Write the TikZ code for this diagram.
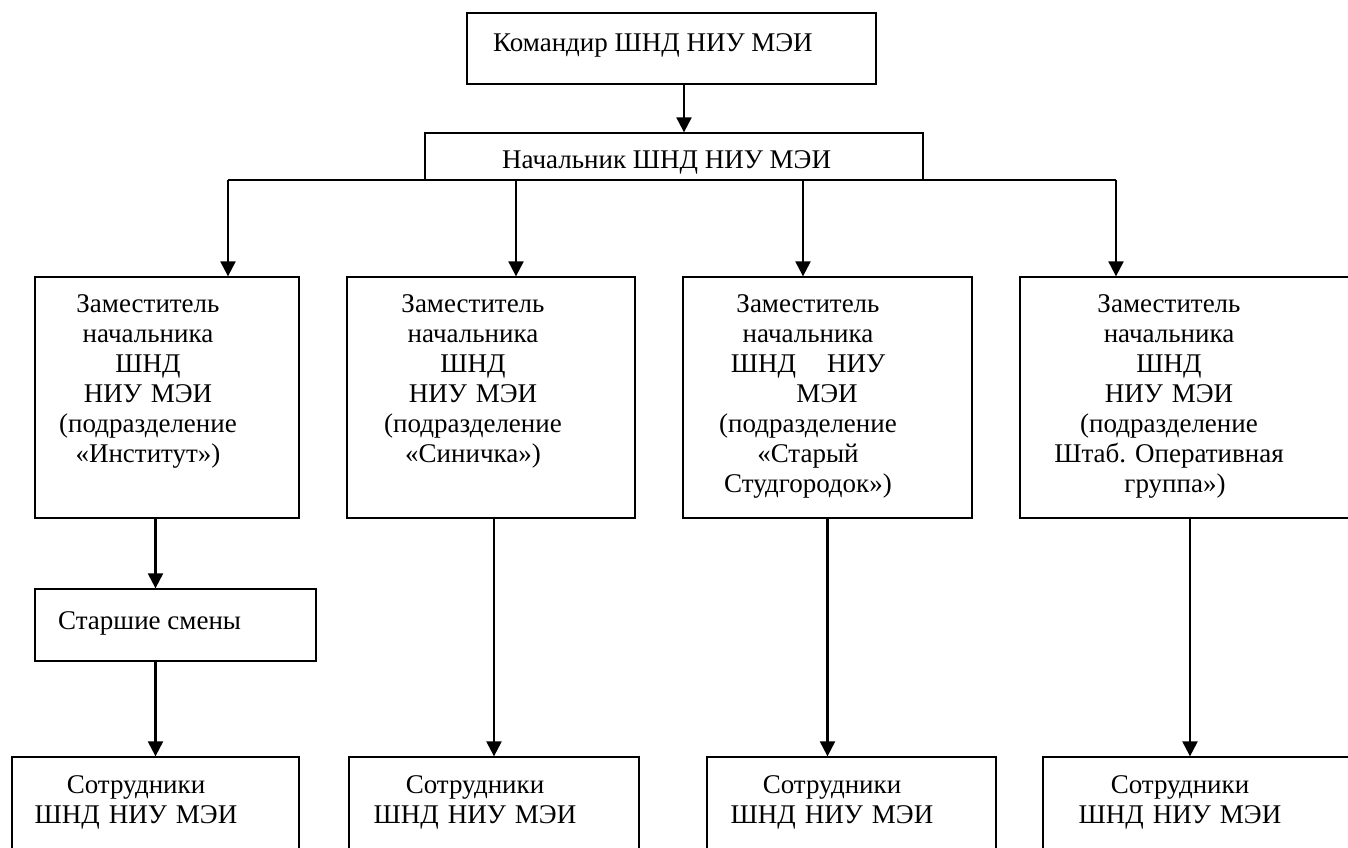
\documentclass[tikz,border=0pt]{standalone}
\usepackage{fontspec}
\setmainfont{Liberation Serif}
\usetikzlibrary{arrows.meta}

\begin{document}
\begin{tikzpicture}[x=1pt,y=-1pt]
		\tikzset{box/.style = {shape=rectangle, draw, line width=1.3pt, inner sep=0pt}, txt/.style = {inner sep=0pt, font=\fontsize{27}{30}\selectfont}, mtxt/.style = {txt, text width=300pt, align=center, anchor=base}}
		\tikzset{conn/.style = {draw=black, line width=2.2pt}, arr/.style = {conn, -{Triangle[length=15pt,width=15pt]}}}
		\useasboundingbox (0,0) rectangle (1348,847);
		\clip (0,0) rectangle (1348,847);
		%boxes
		\node[box, minimum width=409pt, minimum height=71pt] (kom) at (671.5, 48.5) {};
		\node[box, minimum width=498pt, minimum height=47pt] (nach) at (674, 156.5) {};
		\node[box, minimum width=264pt, minimum height=241pt] (zam1) at (167, 397.5) {};
		\node[box, minimum width=288pt, minimum height=241pt] (zam2) at (491, 397.5) {};
		\node[box, minimum width=289pt, minimum height=241pt] (zam3) at (827.5, 397.5) {};
		\node[box, minimum width=340pt, minimum height=241pt] (zam4) at (1190, 397.5) {};
		\node[box, minimum width=281pt, minimum height=72pt] (starsh) at (175.5, 625) {};
		\node[box, minimum width=287pt, minimum height=113pt] (sotr1) at (155.5, 813.5) {};
		\node[box, minimum width=290pt, minimum height=113pt] (sotr2) at (494, 813.5) {};
		\node[box, minimum width=289pt, minimum height=113pt] (sotr3) at (851.5, 813.5) {};
		\node[box, minimum width=317pt, minimum height=113pt] (sotr4) at (1201.5, 813.5) {};
		%texts
		\node[txt, anchor=base west] (komt) at (493, 51) {Командир ШНД НИУ МЭИ};
		\node[txt, anchor=base west] (nacht) at (502, 168) {Начальник ШНД НИУ МЭИ};
		\node[mtxt] (zam1t) at (148, 312) {Заместитель\\ начальника\\ ШНД\\ НИУ МЭИ\\ (подразделение\\ «Институт»)};
		\node[mtxt] (zam2t) at (473, 312) {Заместитель\\ начальника\\ ШНД\\ НИУ МЭИ\\ (подразделение\\ «Синичка»)};
		\node[mtxt] (zam3t) at (808, 312) {Заместитель\\ начальника\\ ШНД\hspace{31pt}НИУ\\ \hspace*{38pt}МЭИ\\ (подразделение\\ «Старый\hspace*{30pt}\\ Студгородок»)};
		\node[mtxt] (zam4t) at (1169, 312) {Заместитель\\ начальника\\ ШНД\\ НИУ МЭИ\\ (подразделение\\ Штаб.\ Оперативная\\ \hspace*{12pt}группа»)};
		\node[txt, anchor=base west] (starsht) at (58, 629) {Старшие смены};
		\node[mtxt] (sotr1t) at (136, 793) {Сотрудники\\ ШНД НИУ МЭИ};
		\node[mtxt] (sotr2t) at (475, 793) {Сотрудники\\ ШНД НИУ МЭИ};
		\node[mtxt] (sotr3t) at (832, 793) {Сотрудники\\ ШНД НИУ МЭИ};
		\node[mtxt] (sotr4t) at (1180, 793) {Сотрудники\\ ШНД НИУ МЭИ};
		%bus
		\coordinate (b1) at (228, 180);
		\coordinate (b2) at (516, 180);
		\coordinate (b3) at (803, 180);
		\coordinate (b4) at (1116, 180);
		%edges
		\draw[arr] ([xshift=12.5pt]kom.south) -- ([xshift=10pt]nach.north);
		\draw[conn] (b1) -- (b4);
		\draw[arr] (b1) -- (b1 |- zam1.north);
		\draw[arr] (b2) -- (b2 |- zam2.north);
		\draw[arr] (b3) -- (b3 |- zam3.north);
		\draw[arr] (b4) -- (b4 |- zam4.north);
		\draw[arr] (zam1.south -| sotr1.north) -- (starsh.north -| sotr1.north);
		\draw[arr] (starsh.south -| sotr1.north) -- (sotr1.north);
		\draw[arr] (zam2.south -| sotr2.north) -- (sotr2.north);
		\draw[arr] (zam3.south) -- (zam3.south |- sotr3.north);
		\draw[arr] (zam4.south) -- (zam4.south |- sotr4.north);
\end{tikzpicture}
\end{document}
